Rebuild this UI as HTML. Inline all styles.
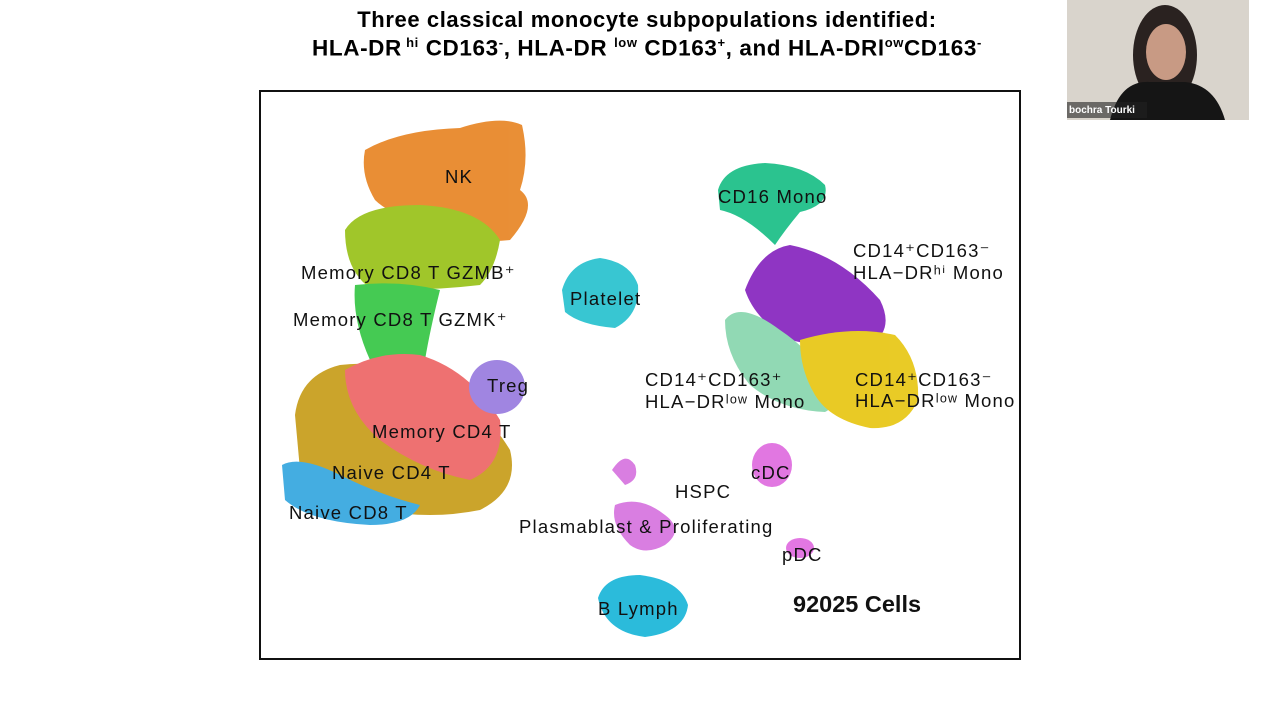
<!DOCTYPE html>
<html><head><meta charset="utf-8"><style>
body{margin:0;width:1280px;height:720px;background:#fff;overflow:hidden;font-family:"Liberation Sans",sans-serif;position:relative}
.t{position:absolute;left:0;width:1294px;text-align:center;font-weight:bold;font-size:22px;color:#000;letter-spacing:0.6px}
svg{position:absolute;left:0;top:0}
</style></head><body>
<div class="t" style="top:7px">Three classical monocyte subpopulations identified:</div>
<div class="t" style="top:35px;font-size:22.5px">HLA-DR<sup style="font-size:13px"> hi</sup> CD163<sup style="font-size:13px">-</sup>, HLA-DR <sup style="font-size:13px">low</sup> CD163<sup style="font-size:13px">+</sup>, and HLA-DRl<sup style="font-size:13px">ow</sup>CD163<sup style="font-size:13px">-</sup></div>
<svg width="1280" height="720">
<rect x="1067" y="0" width="182" height="120" fill="#d9d4cc"/>
<ellipse cx="1165" cy="55" rx="32" ry="50" fill="#2a2220"/>
<ellipse cx="1166" cy="52" rx="20" ry="28" fill="#c89a84"/>
<path d="M1110 120 Q1120 80 1150 82 L1185 82 Q1215 85 1225 120Z" fill="#151515"/>
<rect x="1067" y="102" width="80" height="16" fill="#222" opacity="0.6"/>
<text x="1069" y="113" font-size="10" fill="#fff" font-weight="bold">bochra Tourki</text>
<rect x="260" y="91" width="760" height="568" fill="none" stroke="#111" stroke-width="2"/>
<g opacity="0.95">
<path d="M365 150 Q400 130 460 128 Q500 115 522 125 Q530 160 520 190 Q540 205 510 240 Q470 245 430 225 Q390 215 375 200 Q360 175 365 150Z" fill="#e8892b"/>
<path d="M345 230 Q360 205 420 205 Q480 208 500 240 Q495 270 480 285 Q420 292 370 288 Q345 270 345 230Z" fill="#9bc31f"/>
<path d="M355 285 Q400 280 440 290 Q430 330 425 360 Q395 375 370 360 Q352 320 355 285Z" fill="#3cc84a"/>
<path d="M295 415 Q300 375 340 365 Q380 360 420 375 Q480 400 510 450 Q520 490 480 510 Q430 520 380 510 Q320 490 300 470Z" fill="#c9a020"/>
<path d="M345 370 Q380 350 420 355 Q470 370 500 420 Q505 465 470 480 Q420 470 380 440 Q345 410 345 370Z" fill="#ee6a6a"/>
<path d="M282 465 Q300 455 340 475 Q380 495 420 505 Q410 525 370 525 Q310 522 285 500Z" fill="#3aa9e0"/>
<ellipse cx="497" cy="387" rx="28" ry="27" fill="#9b7fe0"/>
<path d="M562 290 Q570 262 600 258 Q630 262 638 285 Q640 315 615 328 Q580 325 565 312Z" fill="#2ec4d0"/>
<path d="M718 190 Q725 165 765 163 Q805 165 825 185 Q830 205 800 212 Q785 230 775 245 Q745 215 720 210Z" fill="#20c08a"/>
<path d="M745 290 Q760 250 790 245 Q840 255 880 300 Q895 330 870 345 Q830 350 790 340 Q755 320 745 290Z" fill="#8a2bc0"/>
<path d="M725 320 Q740 300 780 330 Q810 350 830 380 Q840 405 825 412 Q780 410 750 385 Q725 355 725 320Z" fill="#8cd8b0"/>
<path d="M800 340 Q850 325 895 335 Q920 360 918 400 Q905 430 870 428 Q830 420 815 395 Q800 370 800 340Z" fill="#e8c81a"/>
<ellipse cx="772" cy="465" rx="20" ry="22" fill="#e070e0"/>
<path d="M612 470 Q625 450 635 465 Q640 480 625 485Z" fill="#d878e0"/>
<path d="M615 505 Q640 495 665 515 Q685 530 665 545 Q645 556 630 545 Q610 525 615 505Z" fill="#d878e0"/>
<ellipse cx="800" cy="548" rx="14" ry="10" fill="#e070e0"/>
<path d="M598 598 Q605 575 640 575 Q680 580 688 605 Q685 632 645 637 Q605 632 598 598Z" fill="#20b8da"/>
</g>
<g font-size="18.5" fill="#111" letter-spacing="1.2">
<text x="445" y="183">NK</text>
<text x="301" y="279">Memory CD8 T GZMB⁺</text>
<text x="293" y="326">Memory CD8 T GZMK⁺</text>
<text x="487" y="392">Treg</text>
<text x="372" y="438">Memory CD4 T</text>
<text x="332" y="479">Naive CD4 T</text>
<text x="289" y="519">Naive CD8 T</text>
<text x="570" y="305">Platelet</text>
<text x="718" y="203">CD16 Mono</text>
<text x="853" y="257">CD14⁺CD163⁻</text>
<text x="853" y="279">HLA−DRʰⁱ Mono</text>
<text x="645" y="386">CD14⁺CD163⁺</text>
<text x="645" y="408">HLA−DRˡᵒʷ Mono</text>
<text x="855" y="386">CD14⁺CD163⁻</text>
<text x="855" y="407">HLA−DRˡᵒʷ Mono</text>
<text x="751" y="479">cDC</text>
<text x="675" y="498">HSPC</text>
<text x="519" y="533">Plasmablast &amp; Proliferating</text>
<text x="782" y="561">pDC</text>
<text x="598" y="615">B Lymph</text>
</g>
<text x="793" y="612" font-size="23.5" font-weight="bold" fill="#111">92025 Cells</text>
</svg>
</body></html>
